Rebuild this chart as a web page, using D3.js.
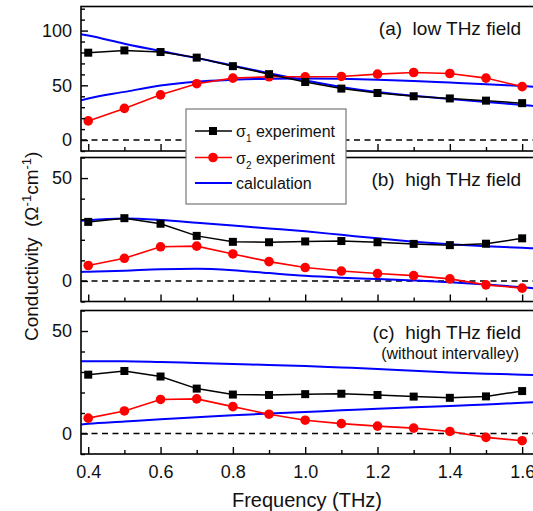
<!DOCTYPE html>
<html>
<head>
<meta charset="utf-8">
<script src="https://cdn.jsdelivr.net/npm/d3@7"></script>
<style>
  html, body { margin: 0; padding: 0; background: #fff; }
  svg { display: block; font-family: "Liberation Sans", Arial, sans-serif; }
</style>
</head>
<body>
<svg id="chart" width="533" height="511"></svg>
<script>
// Measured frequencies (THz)
const freq = [0.4, 0.5, 0.6, 0.7, 0.8, 0.9, 1.0, 1.1, 1.2, 1.3, 1.4, 1.5, 1.6];

// Low THz field experiment (Ω^-1 cm^-1)
const sigma1Low = [79.8, 81.9, 80.4, 75.3, 67.5, 60.2, 53.0, 47.0, 43.0, 40.0, 38.0, 36.0, 33.7];
const sigma2Low = [17.5, 28.9, 41.3, 51.5, 56.6, 57.8, 57.8, 58.1, 60.2, 61.7, 60.8, 56.6, 48.8];

// High THz field experiment (shared by panels b and c)
const sigma1High = [28.7, 30.5, 27.8, 21.9, 19.0, 18.8, 19.2, 19.4, 18.8, 18.0, 17.4, 18.1, 20.7];
const sigma2High = [7.5, 11.0, 16.6, 16.9, 13.1, 9.4, 6.5, 4.8, 3.6, 2.6, 1.0, -1.9, -3.5];

// Model curves, sampled across the full frequency window
const calcFreq = [0.38, 0.4, 0.5, 0.6, 0.7, 0.8, 0.9, 1.0, 1.1, 1.2, 1.3, 1.4, 1.5, 1.6, 1.63];
const calc1Low   = [96.7, 95.5, 88.0, 81.3, 75.0, 68.0, 61.0, 54.5, 48.5, 44.0, 40.5, 37.5, 34.8, 32.0, 31.2];
const calc2Low   = [36.4, 38.0, 44.0, 49.8, 53.3, 55.0, 56.0, 56.3, 56.0, 55.2, 54.0, 52.5, 51.0, 49.3, 48.8];
const calc1High  = [29.2, 29.5, 30.3, 29.6, 28.3, 26.9, 25.5, 24.1, 22.4, 20.7, 19.1, 17.8, 16.8, 16.1, 15.9];
const calc2High  = [4.4, 4.5, 5.0, 5.7, 5.9, 5.2, 3.8, 2.5, 1.6, 0.9, 0.2, -0.6, -1.7, -3.1, -3.5];
const calc1NoIV  = [35.2, 35.2, 35.3, 34.9, 34.4, 33.9, 33.4, 32.9, 32.2, 31.5, 30.6, 29.8, 29.2, 28.7, 28.5];
const calc2NoIV  = [4.4, 4.7, 5.8, 6.9, 7.9, 8.9, 9.7, 10.5, 11.3, 12.1, 12.8, 13.4, 14.2, 15.0, 15.3];

// Axis ticks
const xTicks = [0.4, 0.6, 0.8, 1.0, 1.2, 1.4, 1.6];
const xMinorTicks = [0.5, 0.7, 0.9, 1.1, 1.3, 1.5];
const yTicksLow = [0, 50, 100];
const yMinorLow = [-10, 10, 20, 30, 40, 60, 70, 80, 90, 110, 120];
const yTicksHigh = [0, 50];
const yMinorHigh = [-10, 10, 20, 30, 40, 60];

const panels = [
  { id: "a", top: 6.5, bottom: 151, domain: [-10, 122], yTicks: yTicksLow, yMinor: yMinorLow,
    s1: sigma1Low, s2: sigma2Low, c1: calc1Low, c2: calc2Low,
    title: "(a)  low THz field", sub: null },
  { id: "b", top: 157.5, bottom: 301.5, domain: [-10, 60], yTicks: yTicksHigh, yMinor: yMinorHigh,
    s1: sigma1High, s2: sigma2High, c1: calc1High, c2: calc2High,
    title: "(b)  high THz field", sub: null },
  { id: "c", top: 310.5, bottom: 454, domain: [-10, 60], yTicks: yTicksHigh, yMinor: yMinorHigh,
    s1: sigma1High, s2: sigma2High, c1: calc1NoIV, c2: calc2NoIV,
    title: "(c)  high THz field", sub: "(without intervalley)" }
];

const svg = d3.select("#chart");
const left = 81, right = 533;
const x = d3.scaleLinear().domain([0.38, 1.63]).range([left, right]);

const BLACK = "#000", RED = "#ff0000", BLUE = "#0000ff";

panels.forEach((p, i) => {
  const y = d3.scaleLinear().domain(p.domain).range([p.bottom, p.top]);
  const g = svg.append("g");

  g.append("clipPath").attr("id", "clip-" + p.id)
    .append("rect").attr("x", left).attr("y", p.top)
    .attr("width", right - left).attr("height", p.bottom - p.top);

  // zero reference
  g.append("line")
    .attr("x1", left).attr("x2", right).attr("y1", y(0)).attr("y2", y(0))
    .attr("stroke", BLACK).attr("stroke-width", 1.4).attr("stroke-dasharray", "6,4.5");

  const plot = g.append("g").attr("clip-path", "url(#clip-" + p.id + ")");

  const calcLine = d3.line().x(d => x(d[0])).y(d => y(d[1])).curve(d3.curveMonotoneX);
  [p.c1, p.c2].forEach(arr => {
    plot.append("path")
      .datum(calcFreq.map((f, k) => [f, arr[k]]))
      .attr("d", calcLine).attr("fill", "none")
      .attr("stroke", BLUE).attr("stroke-width", 2);
  });

  const expLine = d3.line().x(d => x(d[0])).y(d => y(d[1]));
  // sigma2 (red circles)
  const s2 = freq.map((f, k) => [f, p.s2[k]]);
  plot.append("path").datum(s2).attr("d", expLine).attr("fill", "none")
    .attr("stroke", RED).attr("stroke-width", 1.6);
  plot.selectAll(null).data(s2).enter().append("circle")
    .attr("cx", d => x(d[0])).attr("cy", d => y(d[1])).attr("r", 4.8).attr("fill", RED);

  // sigma1 (black squares)
  const s1 = freq.map((f, k) => [f, p.s1[k]]);
  plot.append("path").datum(s1).attr("d", expLine).attr("fill", "none")
    .attr("stroke", BLACK).attr("stroke-width", 1.5);
  plot.selectAll(null).data(s1).enter().append("rect")
    .attr("x", d => x(d[0]) - 4).attr("y", d => y(d[1]) - 4)
    .attr("width", 8).attr("height", 8).attr("fill", BLACK);

  // y axis: minor then labelled major ticks, pointing inward
  g.append("g").attr("transform", `translate(${left},0)`)
    .call(d3.axisLeft(y).tickValues(p.yMinor).tickSize(-4).tickFormat(""))
    .call(a => a.select(".domain").remove())
    .call(a => a.selectAll("line").attr("stroke-width", 1.4));
  g.append("g").attr("transform", `translate(${left},0)`)
    .call(d3.axisLeft(y).tickValues(p.yTicks).tickSize(-7).tickPadding(9).tickFormat(d3.format("d")))
    .call(a => a.select(".domain").remove())
    .call(a => a.selectAll("line").attr("stroke-width", 1.4))
    .call(a => a.selectAll("text").attr("font-size", 18).attr("fill", "#111")
      .attr("font-family", "Liberation Sans, Arial, sans-serif"));

  // x axis ticks along the bottom of each panel
  const isLast = i === panels.length - 1;
  g.append("g").attr("transform", `translate(0,${p.bottom})`)
    .call(d3.axisBottom(x).tickValues(xMinorTicks).tickSize(-4).tickFormat(""))
    .call(a => a.select(".domain").remove())
    .call(a => a.selectAll("line").attr("stroke-width", 1.4));
  g.append("g").attr("transform", `translate(0,${p.bottom})`)
    .call(d3.axisBottom(x).tickValues(xTicks).tickSize(-7).tickPadding(11)
      .tickFormat(isLast ? d3.format(".1f") : ""))
    .call(a => a.select(".domain").remove())
    .call(a => a.selectAll("line").attr("stroke-width", 1.4))
    .call(a => a.selectAll("text").attr("font-size", 18).attr("fill", "#111")
      .attr("font-family", "Liberation Sans, Arial, sans-serif"));

  // frame
  g.append("rect").attr("x", left).attr("y", p.top)
    .attr("width", right - left + 2).attr("height", p.bottom - p.top)
    .attr("fill", "none").attr("stroke", BLACK).attr("stroke-width", 1.6);

  // panel captions
  g.append("text").attr("x", 521).attr("y", p.top + 28)
    .attr("text-anchor", "end").attr("font-size", 19).attr("fill", "#111")
    .attr("xml:space", "preserve").text(p.title);
  if (p.sub) {
    g.append("text").attr("x", 519).attr("y", p.top + 48)
      .attr("text-anchor", "end").attr("font-size", 16).attr("fill", "#111")
      .text(p.sub);
  }
});

// x axis title
svg.append("text").attr("x", 307).attr("y", 507)
  .attr("text-anchor", "middle").attr("font-size", 20).attr("fill", "#111")
  .text("Frequency (THz)");

// y axis title
const yTitle = svg.append("text")
  .attr("transform", "translate(38,341) rotate(-90)")
  .attr("text-anchor", "start").attr("font-size", 19).attr("fill", "#111")
  .attr("xml:space", "preserve");
yTitle.append("tspan").text("Conductivity  (Ω");
yTitle.append("tspan").attr("baseline-shift", "super").attr("font-size", 13).text("-1");
yTitle.append("tspan").text("cm");
yTitle.append("tspan").attr("baseline-shift", "super").attr("font-size", 13).text("-1");
yTitle.append("tspan").text(")");

// legend
const legendItems = [
  { sym: "1", label: " experiment", color: BLACK, marker: "square" },
  { sym: "2", label: " experiment", color: RED, marker: "circle" },
  { sym: null, label: "calculation", color: BLUE, marker: null }
];
const lg = svg.append("g");
lg.append("rect").attr("x", 186).attr("y", 109).attr("width", 160).attr("height", 95)
  .attr("fill", "#fff").attr("stroke", "#777").attr("stroke-width", 1.2);
const rowY = [131, 157.5, 183];
legendItems.forEach((it, k) => {
  const cy = rowY[k];
  lg.append("line").attr("x1", 195).attr("x2", 232).attr("y1", cy).attr("y2", cy)
    .attr("stroke", it.color).attr("stroke-width", it.marker ? 1.5 : 2);
  if (it.marker === "square") {
    lg.append("rect").attr("x", 209).attr("y", cy - 4).attr("width", 8).attr("height", 8).attr("fill", it.color);
  } else if (it.marker === "circle") {
    lg.append("circle").attr("cx", 213).attr("cy", cy).attr("r", 4.8).attr("fill", it.color);
  }
  const t = lg.append("text").attr("x", 236).attr("y", cy + 6)
    .attr("font-size", 16).attr("fill", "#111").attr("xml:space", "preserve");
  if (it.sym) {
    t.append("tspan").text("σ");
    t.append("tspan").attr("font-size", 10).attr("dy", 5).text(it.sym);
    t.append("tspan").attr("dy", -5).text(it.label);
  } else {
    t.text(it.label);
  }
});
</script>
</body>
</html>
